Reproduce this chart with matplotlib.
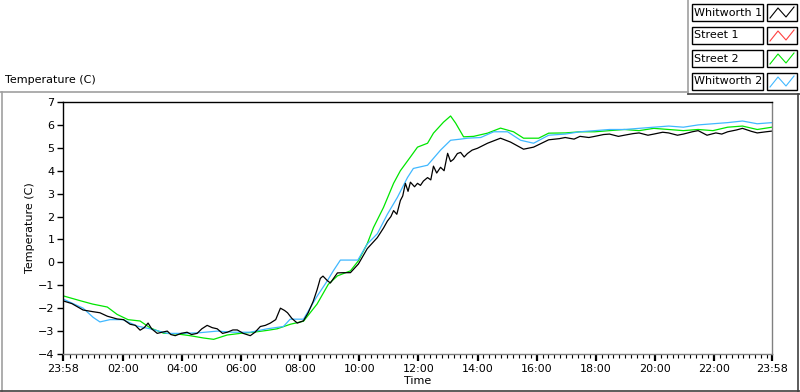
import numpy as np
import matplotlib
matplotlib.use('Agg')
from matplotlib import pyplot as plt
from matplotlib.lines import Line2D
from matplotlib.patches import Rectangle

plt.rcParams['font.family'] = ['DejaVu Sans']
plt.rcParams['font.size'] = 8

# hours since 23:58
w1_t = [0, 0.3, 0.68, 1.0, 1.25, 1.5, 1.83, 2.05, 2.27, 2.45, 2.61, 2.75, 2.88, 3.0,
        3.19, 3.35, 3.53, 3.65, 3.8, 4.0, 4.2, 4.35, 4.54, 4.7, 4.88, 5.05, 5.22, 5.4,
        5.56, 5.75, 5.9, 6.1, 6.34, 6.5, 6.68, 6.85, 7.02, 7.2, 7.36, 7.5, 7.6, 7.75,
        7.93, 8.14, 8.3, 8.47, 8.6, 8.71, 8.8, 8.95, 9.05, 9.29, 9.5, 9.73, 10.0, 10.3,
        10.64, 10.85, 10.98, 11.1, 11.19, 11.3, 11.42, 11.5, 11.59, 11.68, 11.76, 11.9,
        12.0, 12.1, 12.2, 12.34, 12.45, 12.54, 12.65, 12.78, 12.9, 13.02, 13.12, 13.22,
        13.35, 13.46, 13.58, 13.69, 13.85, 14.03, 14.37, 14.81, 15.15, 15.59, 15.93,
        16.44, 16.8, 17, 17.3, 17.5, 17.8, 18, 18.3, 18.5, 18.8, 19, 19.3, 19.5, 19.8,
        20, 20.3, 20.5, 20.8, 21, 21.3, 21.5, 21.8, 22.1, 22.3, 22.5, 22.8, 23, 23.3,
        23.5, 23.8, 24]
w1_v = [-1.68, -1.8, -2.08, -2.15, -2.2, -2.35, -2.47, -2.5, -2.7, -2.75, -2.96, -2.85,
        -2.65, -2.9, -3.1, -3.05, -3.0, -3.15, -3.2, -3.1, -3.05, -3.15, -3.1, -2.9,
        -2.75, -2.85, -2.9, -3.1, -3.05, -2.95, -2.95, -3.1, -3.2, -3.05, -2.8, -2.75,
        -2.65, -2.5, -2.0, -2.1, -2.2, -2.45, -2.65, -2.55, -2.2, -1.7, -1.2, -0.7,
        -0.6, -0.8, -0.9, -0.46, -0.45, -0.45, -0.07, 0.6, 1.08, 1.5, 1.8, 2.0, 2.26,
        2.1, 2.7, 2.9, 3.45, 3.1, 3.5, 3.3, 3.45, 3.36, 3.55, 3.7, 3.6, 4.2, 3.9, 4.15,
        4.0, 4.76, 4.4, 4.5, 4.75, 4.8, 4.6, 4.75, 4.9, 4.98, 5.2, 5.42, 5.25, 4.94,
        5.03, 5.35, 5.4, 5.45, 5.38, 5.5, 5.45, 5.5, 5.58, 5.6, 5.5, 5.55, 5.62, 5.65,
        5.55, 5.6, 5.68, 5.65, 5.55, 5.6, 5.7, 5.75, 5.55, 5.65, 5.6, 5.7, 5.78, 5.85,
        5.72, 5.65, 5.7, 5.73]

s1_t = []
s1_v = []

s2_t = [0, 0.6, 1.0, 1.5, 1.83, 2.2, 2.61, 2.95, 3.4, 3.9, 4.3, 4.75, 5.1, 5.56, 6.0,
        6.44, 6.91, 7.25, 7.7, 8.14, 8.6, 8.98, 9.29, 9.73, 10.0, 10.3, 10.51, 10.85,
        11.19, 11.42, 11.76, 12.0, 12.34, 12.54, 12.88, 13.12, 13.29, 13.56, 13.9,
        14.37, 14.81, 15.25, 15.59, 16.1, 16.44, 17, 17.5, 18, 18.5, 19, 19.5, 20,
        20.5, 21, 21.5, 22, 22.5, 23, 23.5, 24]
s2_v = [-1.46, -1.68, -1.82, -1.95, -2.27, -2.5, -2.56, -2.86, -3.09, -3.13, -3.2, -3.3,
        -3.36, -3.17, -3.1, -3.05, -2.97, -2.9, -2.7, -2.57, -1.82, -0.96, -0.59, -0.37,
        0.07, 0.82, 1.52, 2.4, 3.45, 4.0, 4.6, 5.03, 5.2, 5.64, 6.12, 6.39, 6.08, 5.48,
        5.5, 5.64, 5.86, 5.7, 5.42, 5.42, 5.64, 5.65, 5.7, 5.7, 5.75, 5.8, 5.75, 5.85,
        5.8, 5.75, 5.8, 5.75, 5.9, 5.95, 5.8, 5.9]

w2_t = [0, 0.68, 1.02, 1.25, 1.59, 2.03, 2.51, 2.95, 3.53, 4.07, 4.64, 5.22, 5.76, 6.34,
        6.91, 7.46, 7.69, 8.14, 8.61, 8.95, 9.15, 9.39, 9.98, 10.3, 10.64, 10.98, 11.32,
        11.66, 11.86, 12.34, 12.78, 13.12, 13.46, 13.69, 14.14, 14.58, 15.05, 15.49,
        15.93, 16.44, 17, 17.5, 18, 18.5, 19, 19.5, 20, 20.5, 21, 21.5, 22, 22.5, 23,
        23.5, 24]
w2_v = [-1.6, -2.0, -2.4, -2.6, -2.5, -2.5, -2.78, -2.9, -3.1, -3.1, -3.07, -3.0, -3.05,
        -3.05, -2.9, -2.8, -2.48, -2.48, -1.46, -0.8, -0.37, 0.1, 0.1, 0.8, 1.25, 2.1,
        2.84, 3.7, 4.1, 4.24, 4.9, 5.33, 5.38, 5.42, 5.45, 5.7, 5.7, 5.33, 5.2, 5.55,
        5.6, 5.7, 5.75, 5.8, 5.8, 5.85, 5.9, 5.95, 5.9, 6.0, 6.05, 6.1, 6.17, 6.05, 6.1]

names = ['Whitworth 1', 'Street 1', 'Street 2', 'Whitworth 2']
colors = ['#000000', '#ff4040', '#00e600', '#40b8ff']
series = [(w1_t, w1_v), (s1_t, s1_v), (s2_t, s2_v), (w2_t, w2_v)]

xtick_pos = [0] + [2 + 2 / 60 + 2 * k for k in range(11)] + [24]
xtick_labels = ['23:58', '02:00', '04:00', '06:00', '08:00', '10:00', '12:00',
                '14:00', '16:00', '18:00', '20:00', '22:00', '23:58']

fig = plt.figure(figsize=(8, 3.92), dpi=100)
ax = fig.add_axes([63 / 800, 1 - 354 / 392, 709 / 800, 252 / 392])

# draw order: green under, then blue, then black
for i in [2, 1, 3, 0]:
    t, v = series[i]
    if len(t):
        ax.plot(t, v, color=colors[i], lw=0.9)

ax.set_xlim(0, 24)
ax.set_ylim(-4, 7)
ax.set_yticks(range(-4, 8))
ax.set_xticks(xtick_pos)
ax.set_xticklabels(xtick_labels)
ax.set_xticks(np.arange(2 + 2 / 60 - 0.2 * 10, 24, 0.2)[1:], minor=True)

ax.spines['left'].set_color('black')
ax.spines['top'].set_color('black')
ax.spines['right'].set_color('#808080')
ax.spines['bottom'].set_color('#808080')
for s in ax.spines.values():
    s.set_linewidth(1.0)

ax.tick_params(axis='y', direction='out', length=4, width=1, pad=2)
ax.tick_params(axis='x', which='major', direction='out', length=5, width=1.6, pad=2)
ax.tick_params(axis='x', which='minor', direction='out', length=3, width=0.8)

ax.set_ylabel('Temperature (C)')
ax.yaxis.set_label_coords(-0.04, 0.5)
ax.set_xlabel('Time')
ax.xaxis.set_label_coords(0.5, -0.088)

fig.text(5 / 800, 1 - 80 / 392, 'Temperature (C)', ha='left', va='center')

# panel borders
def fline(x0, y0, x1, y1, c):
    fig.add_artist(Line2D([x0 / 800, x1 / 800], [1 - y0 / 392, 1 - y1 / 392],
                          color=c, lw=1.2))

fline(0, 92, 688, 92, '#a0a0a0')
fline(1.5, 92, 1.5, 391, '#a0a0a0')
fline(0, 390.5, 800, 390.5, '#404040')
fline(798, 94, 798, 392, '#404040')
fline(688, 0, 688, 94, '#a0a0a0')
fline(688, 94, 800, 94, '#404040')

# legend
row_top = [4, 27, 50, 73]
for i, name in enumerate(names):
    y0 = row_top[i]
    h = 17
    fig.add_artist(Rectangle((692 / 800, 1 - (y0 + h) / 392), 71 / 800, h / 392,
                             facecolor='white', edgecolor='black', lw=1.0))
    fig.text(694 / 800, 1 - (y0 + h / 2) / 392, name, ha='left', va='center')
    fig.add_artist(Rectangle((767 / 800, 1 - (y0 + h) / 392), 30 / 800, h / 392,
                             facecolor='white', edgecolor='black', lw=1.0))
    zx = [770, 778, 786, 794]
    zy = [y0 + 14, y0 + 4, y0 + 13, y0 + 3]
    fig.add_artist(Line2D([x / 800 for x in zx], [1 - y / 392 for y in zy],
                          color=colors[i], lw=0.8))

fig.savefig('out.png', dpi=100)
